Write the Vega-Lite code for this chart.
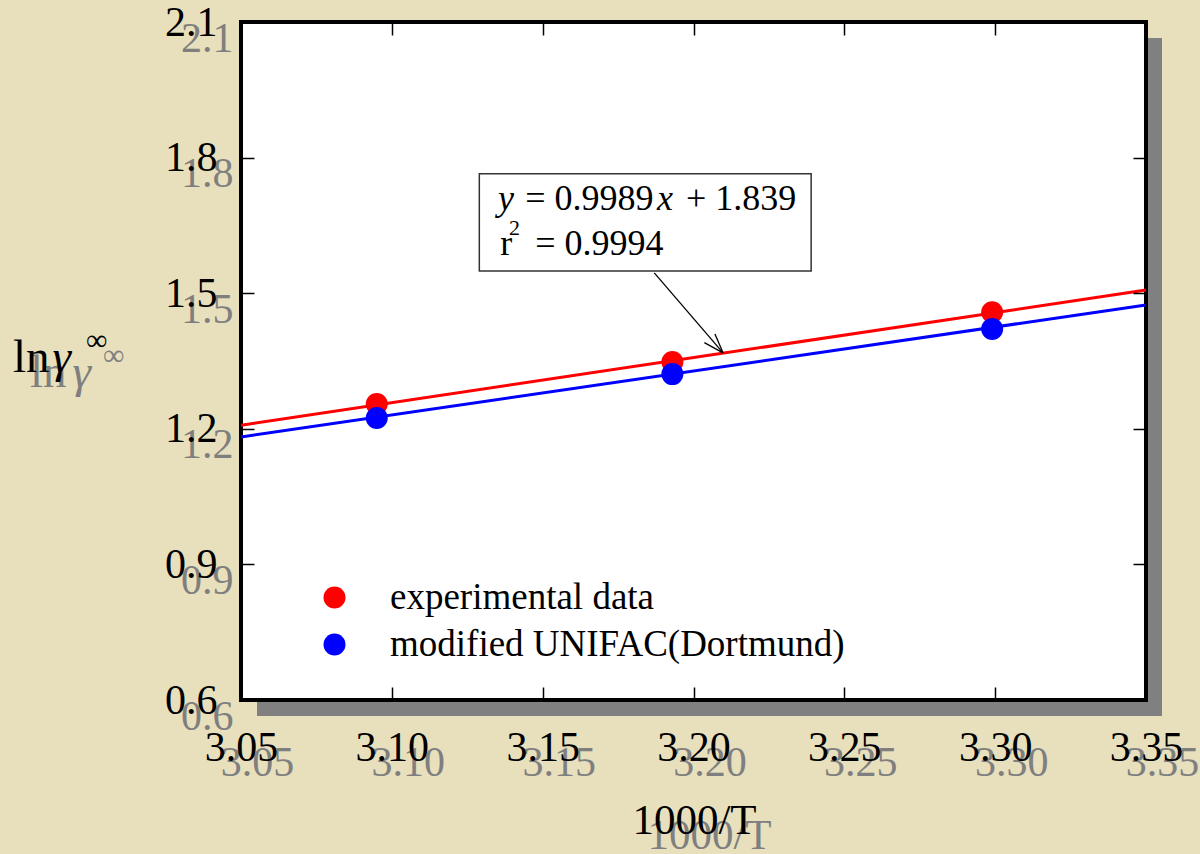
{
  "$schema": "https://vega.github.io/schema/vega-lite/v6.json",
  "width": 905,
  "height": 678,
  "autosize": {"type": "none"},
  "padding": {"left": 241, "top": 22, "right": 54, "bottom": 154},
  "background": "#e8e0bd",
  "config": {"view": {"stroke": null}, "font": "Liberation Serif"},
  "datasets": {
    "frame": [{"x": 3.05, "x2": 3.35, "y": 0.6, "y2": 2.1}],
    "lines": [
      {"series": "experimental data", "x": 3.05, "y": 1.208},
      {"series": "experimental data", "x": 3.35, "y": 1.507},
      {"series": "modified UNIFAC(Dortmund)", "x": 3.05, "y": 1.182},
      {"series": "modified UNIFAC(Dortmund)", "x": 3.35, "y": 1.474}
    ],
    "points": [
      {"series": "experimental data", "x": 3.095, "y": 1.255},
      {"series": "experimental data", "x": 3.193, "y": 1.348},
      {"series": "experimental data", "x": 3.299, "y": 1.458},
      {"series": "modified UNIFAC(Dortmund)", "x": 3.095, "y": 1.224},
      {"series": "modified UNIFAC(Dortmund)", "x": 3.193, "y": 1.321},
      {"series": "modified UNIFAC(Dortmund)", "x": 3.299, "y": 1.421}
    ],
    "box": [{"x": 3.129, "x2": 3.239, "y": 1.549, "y2": 1.764}],
    "arrow": [
      {"x": 3.187, "y": 1.545, "x2": 3.2098, "y2": 1.368},
      {"x": 3.2036, "y": 1.3906, "x2": 3.2098, "y2": 1.368},
      {"x": 3.2071, "y": 1.4099, "x2": 3.2098, "y2": 1.368}
    ],
    "boxText": [
      {"x": 3.1442, "y": 1.684, "t": "= 0.9989"},
      {"x": 3.1975, "y": 1.684, "t": "+ 1.839"},
      {"x": 3.1359, "y": 1.5845, "t": "r"},
      {"x": 3.1475, "y": 1.5845, "t": "= 0.9994"}
    ],
    "boxItalic": [
      {"x": 3.1352, "y": 1.684, "t": "y"},
      {"x": 3.1879, "y": 1.684, "t": "x"}
    ],
    "boxSup": [{"x": 3.1388, "y": 1.629, "t": "2"}],
    "yTitleLn": [{"x": 2.9744, "y": 1.3258, "t": "ln"}],
    "yTitleGamma": [{"x": 2.9875, "y": 1.3258, "t": "γ"}],
    "yTitleInf": [{"x": 2.9986, "y": 1.3745, "t": "∞"}]
  },
  "resolve": {"axis": {"x": "independent", "y": "independent"}},
  "layer": [
    {
      "data": {"name": "frame"},
      "mark": {"type": "rect", "color": "#808080", "xOffset": 16, "x2Offset": 16, "yOffset": 16, "y2Offset": 16},
      "encoding": {
        "x": {"field": "x", "type": "quantitative", "scale": {"domain": [3.05, 3.35], "nice": false, "zero": false},
          "axis": {"orient": "bottom", "values": [3.05, 3.1, 3.15, 3.2, 3.25, 3.3, 3.35], "format": ".2f", "domain": false, "ticks": false, "grid": false,
            "labelFont": "Liberation Serif", "labelFontSize": 42, "labelColor": "#7f7f7f", "labelBaseline": "alphabetic", "labelPadding": 75, "labelOffset": 16,
            "labelFlush": false, "labelOverlap": false, "labelBound": false,
            "title": "1000/T", "titleFont": "Liberation Serif", "titleFontSize": 43, "titleFontWeight": "normal", "titleColor": "#7f7f7f",
            "titleX": 468, "titleY": 148, "titleAlign": "center", "titleBaseline": "alphabetic", "titleAngle": 0, "zindex": 1}},
        "x2": {"field": "x2"},
        "y": {"field": "y", "type": "quantitative", "scale": {"domain": [0.6, 2.1], "nice": false, "zero": false},
          "axis": {"orient": "left", "values": [0.6, 0.9, 1.2, 1.5, 1.8, 2.1], "format": ".1f", "domain": false, "ticks": false, "grid": false,
            "labelFont": "Liberation Serif", "labelFontSize": 42, "labelColor": "#7f7f7f", "labelPadding": 8, "labelOffset": 16,
            "labelFlush": false, "labelOverlap": false, "labelBound": false, "title": null, "zindex": 1}},
        "y2": {"field": "y2"}
      }
    },
    {
      "data": {"name": "frame"},
      "mark": {"type": "rect", "fill": "white", "stroke": "black", "strokeWidth": 4},
      "encoding": {
        "x": {"field": "x", "type": "quantitative",
          "axis": {"orient": "bottom", "values": [3.05, 3.1, 3.15, 3.2, 3.25, 3.3, 3.35], "format": ".2f", "domain": false, "ticks": false, "grid": false,
            "labelFont": "Liberation Serif", "labelFontSize": 42, "labelColor": "black", "labelBaseline": "alphabetic", "labelPadding": 60,
            "labelFlush": false, "labelOverlap": false, "labelBound": false,
            "title": "1000/T", "titleFont": "Liberation Serif", "titleFontSize": 43, "titleFontWeight": "normal", "titleColor": "black",
            "titleX": 453, "titleY": 133, "titleAlign": "center", "titleBaseline": "alphabetic", "titleAngle": 0, "zindex": 2}},
        "x2": {"field": "x2"},
        "y": {"field": "y", "type": "quantitative",
          "axis": {"orient": "left", "values": [0.6, 0.9, 1.2, 1.5, 1.8, 2.1], "format": ".1f", "domain": false, "ticks": false, "grid": false,
            "labelFont": "Liberation Serif", "labelFontSize": 42, "labelColor": "black", "labelPadding": 24,
            "labelFlush": false, "labelOverlap": false, "labelBound": false, "title": null, "zindex": 2}},
        "y2": {"field": "y2"}
      }
    },
    {
      "data": {"name": "lines"},
      "transform": [{"filter": "datum.series == 'experimental data'"}],
      "mark": {"type": "line", "color": "#ff0000", "strokeWidth": 3},
      "encoding": {
        "x": {"field": "x", "type": "quantitative",
          "axis": {"orient": "top", "values": [3.1, 3.15, 3.2, 3.25, 3.3], "labels": false, "domain": false, "grid": false, "ticks": true, "tickSize": 13, "offset": -13, "tickColor": "black", "tickWidth": 1.5, "title": null, "zindex": 3}},
        "y": {"field": "y", "type": "quantitative",
          "axis": {"orient": "right", "values": [0.9, 1.2, 1.5, 1.8], "labels": false, "domain": false, "grid": false, "ticks": true, "tickSize": 13, "offset": -13, "tickColor": "black", "tickWidth": 1.5, "title": null, "zindex": 3}}
      }
    },
    {
      "data": {"name": "lines"},
      "transform": [{"filter": "datum.series == 'modified UNIFAC(Dortmund)'"}],
      "mark": {"type": "line", "color": "#0000ff", "strokeWidth": 3},
      "encoding": {
        "x": {"field": "x", "type": "quantitative",
          "axis": {"orient": "bottom", "values": [3.1, 3.15, 3.2, 3.25, 3.3], "labels": false, "domain": false, "grid": false, "ticks": true, "tickSize": 13, "offset": -13, "tickColor": "black", "tickWidth": 1.5, "title": null, "zindex": 3}},
        "y": {"field": "y", "type": "quantitative",
          "axis": {"orient": "left", "values": [0.9, 1.2, 1.5, 1.8], "labels": false, "domain": false, "grid": false, "ticks": true, "tickSize": 13, "offset": -13, "tickColor": "black", "tickWidth": 1.5, "title": null, "zindex": 3}}
      }
    },
    {
      "data": {"name": "points"},
      "mark": {"type": "point", "shape": "circle", "filled": true, "opacity": 1, "size": 484},
      "encoding": {
        "x": {"field": "x", "type": "quantitative", "axis": null},
        "y": {"field": "y", "type": "quantitative", "axis": null},
        "color": {"field": "series", "type": "nominal",
          "scale": {"domain": ["experimental data", "modified UNIFAC(Dortmund)"], "range": ["#ff0000", "#0000ff"]},
          "legend": {"orient": "none", "legendX": 75, "legendY": 557, "title": null, "padding": 0,
            "labelFont": "Liberation Serif", "labelFontSize": 37, "labelColor": "black", "labelOffset": 37, "labelLimit": 700,
            "symbolSize": 484, "symbolType": "circle", "symbolStrokeWidth": 0, "symbolOpacity": 1, "rowPadding": 9}}
      }
    },
    {
      "data": {"name": "box"},
      "mark": {"type": "rect", "fill": "white", "stroke": "#333333", "strokeWidth": 1.5},
      "encoding": {
        "x": {"field": "x", "type": "quantitative", "axis": null},
        "x2": {"field": "x2"},
        "y": {"field": "y", "type": "quantitative", "axis": null},
        "y2": {"field": "y2"}
      }
    },
    {
      "data": {"name": "arrow"},
      "mark": {"type": "rule", "color": "black", "strokeWidth": 1.3},
      "encoding": {
        "x": {"field": "x", "type": "quantitative", "axis": null},
        "x2": {"field": "x2"},
        "y": {"field": "y", "type": "quantitative", "axis": null},
        "y2": {"field": "y2"}
      }
    },
    {
      "data": {"name": "boxText"},
      "mark": {"type": "text", "align": "left", "baseline": "alphabetic", "font": "Liberation Serif", "fontSize": 36, "color": "black"},
      "encoding": {
        "x": {"field": "x", "type": "quantitative", "axis": null},
        "y": {"field": "y", "type": "quantitative", "axis": null},
        "text": {"field": "t"}
      }
    },
    {
      "data": {"name": "boxItalic"},
      "mark": {"type": "text", "align": "left", "baseline": "alphabetic", "font": "Liberation Serif", "fontStyle": "italic", "fontSize": 36, "color": "black"},
      "encoding": {
        "x": {"field": "x", "type": "quantitative", "axis": null},
        "y": {"field": "y", "type": "quantitative", "axis": null},
        "text": {"field": "t"}
      }
    },
    {
      "data": {"name": "boxSup"},
      "mark": {"type": "text", "align": "left", "baseline": "alphabetic", "font": "Liberation Serif", "fontSize": 22, "color": "black"},
      "encoding": {
        "x": {"field": "x", "type": "quantitative", "axis": null},
        "y": {"field": "y", "type": "quantitative", "axis": null},
        "text": {"field": "t"}
      }
    },
    {
      "data": {"name": "yTitleLn"},
      "mark": {"type": "text", "align": "left", "baseline": "alphabetic", "font": "Liberation Serif", "fontSize": 47, "color": "#7f7f7f", "dx": 17, "dy": 15},
      "encoding": {"x": {"field": "x", "type": "quantitative", "axis": null}, "y": {"field": "y", "type": "quantitative", "axis": null}, "text": {"field": "t"}}
    },
    {
      "data": {"name": "yTitleGamma"},
      "mark": {"type": "text", "align": "left", "baseline": "alphabetic", "font": "Liberation Serif", "fontStyle": "italic", "fontSize": 47, "color": "#7f7f7f", "dx": 20, "dy": 15},
      "encoding": {"x": {"field": "x", "type": "quantitative", "axis": null}, "y": {"field": "y", "type": "quantitative", "axis": null}, "text": {"field": "t"}}
    },
    {
      "data": {"name": "yTitleInf"},
      "mark": {"type": "text", "align": "left", "baseline": "alphabetic", "font": "Liberation Serif", "fontSize": 30, "color": "#7f7f7f", "dx": 17, "dy": 15},
      "encoding": {"x": {"field": "x", "type": "quantitative", "axis": null}, "y": {"field": "y", "type": "quantitative", "axis": null}, "text": {"field": "t"}}
    },
    {
      "data": {"name": "yTitleLn"},
      "mark": {"type": "text", "align": "left", "baseline": "alphabetic", "font": "Liberation Serif", "fontSize": 47, "color": "black"},
      "encoding": {"x": {"field": "x", "type": "quantitative", "axis": null}, "y": {"field": "y", "type": "quantitative", "axis": null}, "text": {"field": "t"}}
    },
    {
      "data": {"name": "yTitleGamma"},
      "mark": {"type": "text", "align": "left", "baseline": "alphabetic", "font": "Liberation Serif", "fontStyle": "italic", "fontSize": 47, "color": "black"},
      "encoding": {"x": {"field": "x", "type": "quantitative", "axis": null}, "y": {"field": "y", "type": "quantitative", "axis": null}, "text": {"field": "t"}}
    },
    {
      "data": {"name": "yTitleInf"},
      "mark": {"type": "text", "align": "left", "baseline": "alphabetic", "font": "Liberation Serif", "fontSize": 30, "color": "black"},
      "encoding": {"x": {"field": "x", "type": "quantitative", "axis": null}, "y": {"field": "y", "type": "quantitative", "axis": null}, "text": {"field": "t"}}
    }
  ]
}
